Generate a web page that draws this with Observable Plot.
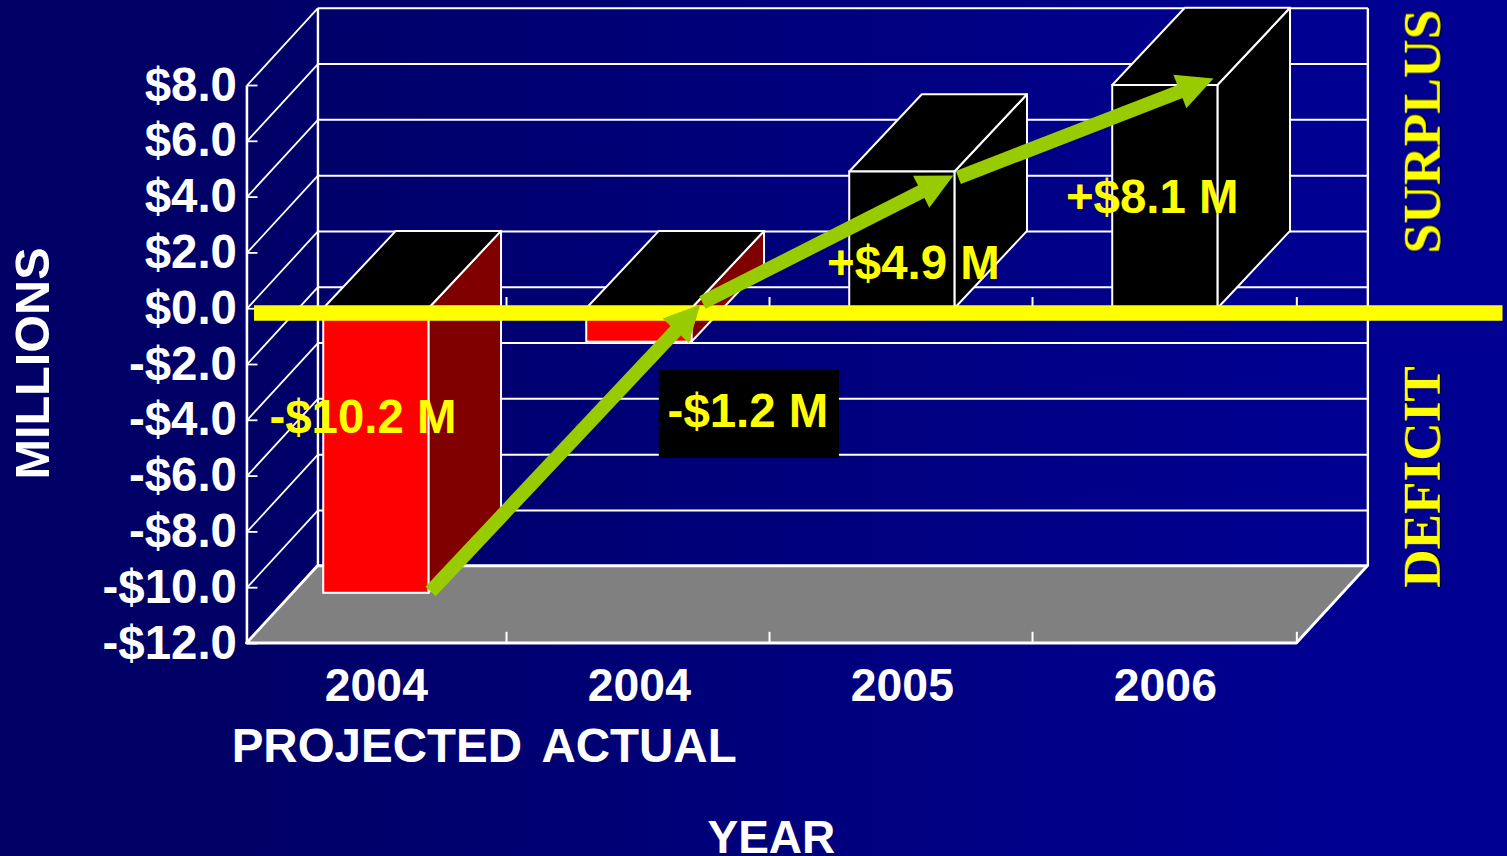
<!DOCTYPE html>
<html><head><meta charset="utf-8">
<script src="https://cdn.jsdelivr.net/npm/d3@7"></script>
<script src="https://cdn.jsdelivr.net/npm/@observablehq/plot@0.6"></script>
<style>
html,body{margin:0;padding:0;width:1507px;height:856px;overflow:hidden;background:linear-gradient(90deg,#000066 0%,#000066 15%,#000090 85%,#000092 100%);}
svg{display:block;background:transparent!important;}
</style></head><body><div id="chart"></div>
<script>
const years=["2004","2004","2005","2006"];
const amounts=[-10.2,-1.2,4.9,8.0];
const amountLabels=["-$10.2 M","-$1.2 M","+$4.9 M","+$8.1 M"];
const labelU=[0.439,1.903,2.532,3.44];
const labelV=[-3.9,-3.685,1.62,3.986];
const barCentre=[0.49,1.49,2.49,3.49];
const frontFill=["#ff0000","#ff0000","#000000","#000000"];
const sideFill=["#800000","#800000","#000000","#000000"];
const levels=[8,6,4,2,0,-2,-4,-6,-8,-10,-12];
const slotEnds=[0.985,1.985,2.985,3.99];
const arrowFromU=[0.696,1.73,2.703], arrowFromV=[-10.136,0.222,4.703];
const arrowToU=[1.722,2.684,3.673], arrowToV=[0.151,4.774,8.251];
const xDomain=[-0.939,4.791], yDomain=[-19.634,11.047];
const W=1507,H=856;
const du=0.27, dv=2.77, barDu=0.276, barW=0.4, uMin=-0.002, uMax=3.99, vMin=-12, vMax=8;
const pxU=W/(xDomain[1]-xDomain[0]), pxV=H/(yDomain[1]-yDomain[0]);
const white="#ffffff", green="#99cc00", yellow="#ffff00";
const font="Liberation Sans, Arial, sans-serif", serif="Liberation Serif, Times New Roman, serif";

const link=(rows,o={})=>Plot.link(rows,{x1:"a",y1:"b",x2:"c",y2:"d",stroke:white,strokeWidth:2,...o});
const marks=[];
// walls
marks.push(link(levels.map(v=>({a:uMin,b:v,c:uMin+du,d:v+dv})),{strokeWidth:1.8}));
marks.push(link(levels.map(v=>({a:uMin+du,b:v+dv,c:uMax+du,d:v+dv})),{strokeWidth:2}));
marks.push(link([uMin+du,uMax+du].map(u=>({a:u,b:vMin+dv,c:u,d:vMax+dv})),{strokeWidth:2.4}));
marks.push(link([{a:uMin,b:vMin,c:uMin,d:vMax}],{strokeWidth:2.6}));
marks.push(link(levels.map(v=>({a:uMin,b:v,c:uMin+0.04,d:v})),{strokeWidth:1.8}));
// floor
marks.push(Plot.areaX([{y:vMin,x1:uMin,x2:uMax},{y:vMin+dv,x1:uMin+du,x2:uMax+du}],{y:"y",x1:"x1",x2:"x2",fill:"#808080",stroke:white,strokeWidth:2.8}));
// depth ticks
for(const v of [vMin,0]) marks.push(link(slotEnds.map(u=>({a:u,b:v,c:u,d:v+0.42})),{strokeWidth:2}));
// bars
amounts.forEach((val,i)=>{
  const x0=barCentre[i]-barW/2,x1=barCentre[i]+barW/2,top=Math.max(val,0),bot=Math.min(val,0);
  marks.push(Plot.areaY([{x:x1,y1:bot,y2:top},{x:x1+barDu,y1:bot+dv,y2:top+dv}],{x:"x",y1:"y1",y2:"y2",fill:sideFill[i],stroke:white,strokeWidth:2}));
  marks.push(Plot.areaX([{y:top,x1:x0,x2:x1},{y:top+dv,x1:x0+barDu,x2:x1+barDu}],{y:"y",x1:"x1",x2:"x2",fill:"#000000",stroke:white,strokeWidth:2}));
  marks.push(Plot.rect([{x1:x0,x2:x1,y1:bot,y2:top}],{x1:"x1",x2:"x2",y1:"y1",y2:"y2",fill:frontFill[i],stroke:white,strokeWidth:2}));
});
// zero line
marks.push(Plot.link([{a:0.025,b:-0.15,c:4.772,d:-0.15}],{x1:"a",y1:"b",x2:"c",y2:"d",stroke:yellow,strokeWidth:15.5}));
// black plate behind the -1.2 label
marks.push(Plot.rect([{x1:1.566,x2:2.251,y1:-5.369,y2:-2.215}],{x1:"x1",x2:"x2",y1:"y1",y2:"y2",fill:"#000000"}));
// amount labels
marks.push(Plot.text(amountLabels,{x:(d,i)=>labelU[i],y:(d,i)=>labelV[i],text:d=>d,fill:yellow,fontSize:47.4,fontWeight:"bold",fontFamily:font}));
// arrows
const arrowRows=arrowFromU.map((u,i)=>{
  const sx=(arrowToU[i]-u)*pxU, sy=(arrowToV[i]-arrowFromV[i])*pxV, len=Math.hypot(sx,sy), k=1-24/len;
  return {u,v:arrowFromV[i],eu:u+(arrowToU[i]-u)*k,ev:arrowFromV[i]+(arrowToV[i]-arrowFromV[i])*k,tu:arrowToU[i],tv:arrowToV[i],rot:Math.atan2(sx,sy)*180/Math.PI};
});
marks.push(Plot.link(arrowRows,{x1:"u",y1:"v",x2:"eu",y2:"ev",stroke:green,strokeWidth:14}));
const head={draw(c,l){c.moveTo(0,-l);c.lineTo(18,0);c.lineTo(-18,0);c.closePath();}};
marks.push(Plot.vector(arrowRows,{x:"tu",y:"tv",rotate:"rot",length:36,anchor:"end",shape:head,fill:green,stroke:"none"}));
// axes
const ax={fontWeight:"bold",fontFamily:font,fill:white,tickSize:0,stroke:"none"};
marks.push(Plot.axisY(levels,{...ax,fontSize:47.4,x:uMin,anchor:"left",tickPadding:10,dy:0,tickFormat:d=>(d<0?"-":"")+"$"+Math.abs(d).toFixed(1),label:null}));
marks.push(Plot.axisX(barCentre,{...ax,fontSize:46.4,y:vMin,anchor:"bottom",tickPadding:25,tickFormat:(d,i)=>years[i],label:null}));
// titles
const txt=(t,u,v,o={})=>Plot.text([t],{x:()=>u,y:()=>v,text:d=>d,fill:white,fontSize:47.5,fontWeight:"bold",fontFamily:font,...o});
marks.push(txt("PROJECTED",0.492,-15.7));
marks.push(txt("ACTUAL",1.489,-15.7));
marks.push(txt("YEAR",1.992,-18.99,{fontSize:46}));
marks.push(txt("MILLIONS",-0.814,-1.964,{rotate:-90,fontSize:48.6}));
marks.push(txt("SURPLUS",4.469,6.351,{rotate:-90,fill:yellow,fontSize:53.5,fontFamily:serif}));
marks.push(txt("DEFICIT",4.469,-6.03,{rotate:-90,fill:yellow,fontSize:53.2,fontFamily:serif}));

const chart=Plot.plot({width:W,height:H,margin:0,style:{background:"transparent"},
  x:{domain:xDomain,axis:null},y:{domain:yDomain,axis:null},marks});
d3.select(chart).selectAll("text").filter(function(){return ["SURPLUS","DEFICIT"].includes(this.textContent);}).style("filter","drop-shadow(1.5px 1.5px 0 #000)");
document.getElementById("chart").append(chart);
</script></body></html>
